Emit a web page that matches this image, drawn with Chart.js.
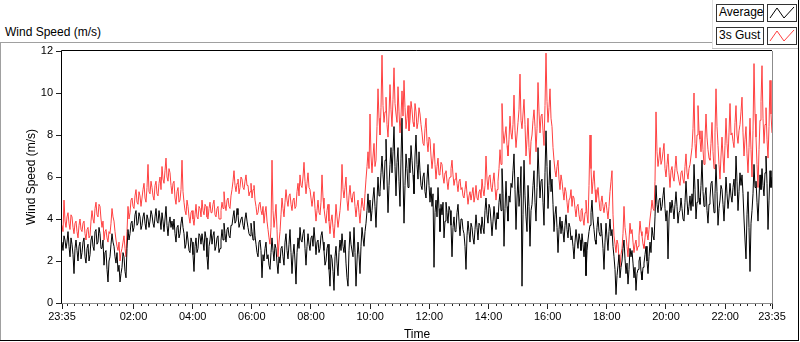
<!DOCTYPE html>
<html>
<head>
<meta charset="utf-8">
<script src="https://cdn.jsdelivr.net/npm/chart.js@4.4.1/dist/chart.umd.min.js"></script>
<style>
  body { margin: 0; background: #fff; overflow: hidden; font-family: "Liberation Sans", Arial, sans-serif; }
  #wrap { position: relative; width: 800px; height: 342px; }
  #chart { position: absolute; left: 0; top: 0; }
  .line { position: absolute; }
  .lbl { position: absolute; font-size: 12px; line-height: 14px; color: #000; white-space: nowrap; }
  .box { position: absolute; box-sizing: border-box; border: 1px solid #333; background: #fff;
         font-size: 12px; line-height: 15px; padding-left: 2px; color: #000; height: 18px; }
  .icon { padding: 0; width: 30px; }
  .icon svg { display: block; }
</style>
</head>
<body>
<div id="wrap">
  <div class="line" style="left:0;top:42px;width:712px;height:1px;background:#a0a0a0"></div>
  <div class="line" style="left:0;top:42px;width:1px;height:299px;background:#a0a0a0"></div>
  <div class="line" style="left:0;top:340px;width:799px;height:1px;background:#000"></div>
  <div class="line" style="left:798px;top:0;width:1px;height:341px;background:#000"></div>
  <div class="line" style="left:712px;top:0;width:1px;height:48px;background:#e0e0e0"></div>
  <div class="line" style="left:712px;top:48px;width:86px;height:1px;background:#c0c0c0"></div>

  <div class="lbl" style="left:5px;top:25px">Wind Speed (m/s)</div>

  <div class="box" style="left:716px;top:4px;width:48px">Average</div>
  <div class="box icon" style="left:767px;top:4px">
    <svg width="28" height="16"><polyline points="2,13 9,3 16,13 26,2" fill="none" stroke="#000" stroke-width="1"/></svg>
  </div>
  <div class="box" style="left:716px;top:27px;width:48px">3s Gust</div>
  <div class="box icon" style="left:767px;top:27px">
    <svg width="28" height="16"><polyline points="2,13 9,3 16,13 26,2" fill="none" stroke="#ff4040" stroke-width="1"/></svg>
  </div>

  <canvas id="chart" width="800" height="342"></canvas>
</div>
<script>
// wind speed, m/s, one reading about every 2 minutes from 23:35 to 23:35
const average = [
  2.9,2.5,3.2,3.0,2.6,2.9,3.4,2.7,2.2,3.1, 2.8,2.3,1.4,2.6,3.0,2.5,2.0,2.7,2.9,2.1,
  2.4,2.9,3.1,2.2,1.9,2.6,2.8,2.0,2.3,3.0, 3.2,2.7,2.5,3.4,3.5,2.8,2.9,3.6,3.3,2.6,
  2.6,3.0,1.8,2.4,2.5,1.6,1.0,2.0,2.2,2.8, 3.3,2.9,2.7,2.2,1.9,2.4,1.5,1.8,1.0,1.4,
  1.7,2.4,2.2,1.5,1.2,2.6,3.5,3.0,3.3,3.8, 3.9,3.4,3.6,4.2,4.4,3.7,3.8,4.3,4.1,3.5,
  3.7,4.1,4.3,3.8,3.5,4.2,4.0,3.6,3.9,4.4, 4.2,3.8,3.6,4.1,4.5,3.9,3.8,4.4,4.0,3.5,
  4.3,3.9,3.4,4.0,4.6,3.7,3.2,3.8,4.1,3.6, 3.9,3.5,4.0,3.3,2.9,3.6,3.7,3.1,3.3,3.8,
  4.1,3.6,3.3,2.6,2.8,3.4,3.0,2.5,2.4,3.1, 2.9,2.3,1.5,2.7,3.1,2.4,2.6,3.3,3.2,2.8,
  3.3,2.9,2.5,3.4,3.1,2.2,1.6,2.7,3.0,3.5, 2.8,3.2,3.4,2.5,2.7,3.1,3.2,2.4,2.6,3.0,
  3.5,3.0,3.8,3.3,2.9,3.5,3.6,3.2,3.1,3.7, 3.7,4.1,4.4,3.8,3.9,4.5,4.2,3.6,3.8,4.0,
  4.1,3.7,3.5,4.0,4.3,3.9,3.6,3.3,3.2,3.8, 3.4,3.0,3.9,3.2,2.8,2.4,2.2,2.9,3.0,2.5,
  1.2,2.3,2.0,2.6,2.9,2.1,2.3,1.8,1.6,2.4, 3.1,2.5,2.0,2.8,2.6,1.9,1.4,2.2,1.9,2.6,
  2.7,2.2,1.8,2.9,3.3,2.5,2.1,2.8,3.5,2.4, 1.4,2.3,2.8,2.0,0.9,2.4,3.1,2.6,3.6,3.0,
  2.9,3.3,3.5,2.6,1.8,2.7,3.3,2.8,2.5,3.1, 3.2,2.7,3.6,3.0,2.3,2.9,3.0,2.4,2.6,3.2,
  3.4,2.9,2.5,1.8,2.0,2.6,2.8,1.6,0.8,2.3, 2.1,1.5,0.6,2.2,2.7,1.9,1.3,2.4,3.0,2.5,
  3.3,2.7,2.4,3.0,1.9,1.2,0.8,2.5,3.4,2.8, 2.8,2.2,3.6,2.4,0.8,2.0,2.9,2.3,1.4,2.7,
  3.6,3.1,2.7,3.4,3.8,4.4,5.2,4.3,4.9,3.9, 4.4,5.0,5.5,4.6,3.6,4.9,6.0,5.1,5.3,6.2,
  7.0,6.1,5.4,6.8,7.8,5.9,4.3,5.6,6.6,7.4, 6.2,7.2,8.4,6.5,5.1,6.7,7.4,5.8,4.6,6.9,
  8.8,6.0,3.8,5.6,7.1,6.4,5.5,6.9,6.2,7.5, 6.8,6.1,5.2,7.0,8.0,6.6,5.9,7.2,6.3,5.6,
  5.4,6.0,6.2,5.3,5.0,5.9,6.6,5.6,4.8,5.5, 4.6,5.2,1.7,4.3,4.9,4.1,5.5,4.5,3.4,4.7,
  4.2,4.8,3.1,3.9,4.8,4.3,3.8,4.6,4.4,3.7, 2.2,3.6,4.1,3.4,3.5,4.3,4.7,3.9,3.2,4.0,
  4.0,3.5,3.3,2.7,1.6,3.2,3.9,3.4,2.9,3.8, 3.6,3.1,2.8,3.5,4.2,3.6,3.0,3.8,3.7,3.3,
  4.1,3.6,3.3,4.4,5.0,4.2,3.8,4.7,4.5,3.9, 3.2,3.9,4.6,4.0,3.5,4.3,4.0,4.8,5.2,4.4,
  6.4,5.2,2.7,4.5,5.8,4.6,3.9,5.1,4.8,5.7, 5.5,6.3,7.1,5.4,3.5,5.0,6.0,4.6,5.2,6.5,
  0.8,4.2,6.8,5.1,4.1,3.4,5.6,4.6,2.7,4.4, 4.7,5.6,6.3,4.8,3.9,5.5,7.4,6.1,5.0,5.8,
  5.9,4.8,3.7,6.2,8.2,6.5,4.5,5.6,6.8,5.3, 5.9,4.7,3.4,4.2,4.6,3.6,2.4,3.5,4.1,3.3,
  3.9,3.4,2.9,3.7,4.2,3.5,3.1,3.8,3.6,3.0, 3.2,2.7,2.1,2.9,3.5,3.0,2.6,3.3,3.0,2.5,
  3.3,2.8,2.2,2.9,1.3,2.5,3.0,3.4,3.7,4.3, 4.9,4.0,3.5,3.0,2.8,3.6,4.1,3.4,3.2,3.8,
  3.3,2.6,1.6,2.9,3.8,3.1,2.5,3.4,4.0,3.2, 3.5,2.7,2.2,1.6,0.4,1.3,1.8,2.3,1.2,1.7,
  2.0,2.6,3.0,2.1,1.4,1.9,0.9,1.6,2.6,2.2, 2.5,1.9,1.2,1.7,0.6,1.4,1.6,2.0,2.2,1.5,
  1.1,1.7,1.9,2.3,2.7,2.0,1.4,2.2,2.9,2.4, 3.6,3.2,3.0,4.1,5.6,4.7,4.3,4.9,5.0,4.4,
  4.6,5.1,5.5,4.5,3.9,4.4,2.1,4.0,4.8,4.3, 4.9,4.5,4.0,4.7,5.3,4.6,3.8,4.3,4.4,5.0,
  4.5,4.0,3.9,4.8,5.8,4.9,4.2,4.6,5.1,4.4, 5.2,4.6,6.6,5.4,4.0,4.8,5.9,5.0,4.7,5.6,
  6.8,5.3,4.6,5.1,5.5,4.4,3.8,4.7,5.0,5.7, 5.8,5.0,4.3,5.2,6.6,5.3,3.7,4.5,4.9,5.6,
  5.4,4.7,3.9,4.9,6.0,5.2,4.5,5.0,5.7,5.1, 4.8,5.5,5.9,5.1,7.0,5.8,4.4,5.3,6.2,5.6,
  6.1,5.2,4.0,3.0,2.1,4.2,5.3,3.6,1.5,3.8, 4.4,5.2,6.6,5.5,5.8,4.8,3.9,5.0,6.1,5.4,
  6.4,5.6,5.1,6.2,7.0,5.7,3.5,4.9,6.3,5.5, 6.0
];
const gust = [
  3.7,3.4,4.9,3.9,3.6,4.1,4.3,3.8,3.5,4.2, 4.1,3.6,3.3,3.8,3.9,3.4,3.1,3.7,4.0,3.5,
  3.4,3.8,3.9,3.3,3.0,3.5,3.6,3.1,3.2,3.9, 4.4,4.0,3.8,4.5,4.8,4.2,4.1,4.7,4.6,4.0,
  3.6,3.9,3.0,3.4,3.5,3.1,2.9,3.4,3.3,3.8, 4.5,4.1,3.9,3.4,3.0,2.7,2.5,2.9,2.0,2.4,
  2.6,2.9,3.2,2.6,2.2,3.4,4.6,4.0,4.3,4.9, 5.0,4.6,4.5,5.1,5.4,4.8,4.7,5.3,5.1,4.6,
  5.0,5.4,5.7,5.0,4.8,5.5,6.6,5.3,5.2,5.8, 5.5,5.1,4.9,5.6,5.8,5.2,5.1,5.7,6.0,5.4,
  6.5,5.9,5.7,6.3,6.9,6.0,5.8,6.4,6.2,5.6, 5.2,5.7,5.8,5.0,4.7,5.3,5.5,4.8,4.9,5.4,
  6.8,5.3,4.8,4.4,4.2,4.9,4.6,4.1,3.8,4.3, 4.4,4.0,3.7,4.2,4.7,4.1,4.0,4.6,4.5,4.1,
  4.9,4.4,4.2,4.7,4.6,4.1,4.0,4.5,4.8,4.3, 4.3,4.7,4.9,4.2,4.1,4.5,4.6,4.0,4.0,4.4,
  4.8,4.5,5.3,4.7,4.4,4.9,5.0,4.6,4.5,5.1, 5.4,5.8,6.3,5.6,5.3,5.7,5.9,5.2,5.5,6.0,
  5.9,5.5,5.4,5.8,6.1,5.6,5.6,5.1,5.3,5.7, 5.0,5.4,5.6,4.9,4.6,4.2,4.3,4.7,4.8,4.4,
  4.2,4.6,3.8,4.3,4.6,3.9,3.5,3.1,2.8,3.6, 6.8,4.4,3.6,4.1,4.7,3.5,2.2,2.9,3.4,4.2,
  5.0,4.5,4.1,4.8,5.4,4.9,4.6,5.1,5.2,4.7, 4.4,4.9,5.0,4.5,4.6,5.3,5.7,5.1,6.1,5.6,
  5.5,6.0,6.7,5.8,5.2,5.7,6.2,5.5,5.4,5.0, 4.6,5.0,5.3,4.5,3.9,4.4,4.9,4.3,4.2,4.8,
  6.1,5.0,4.5,4.1,3.8,4.4,4.7,3.9,3.3,3.9, 4.2,3.6,3.1,3.8,4.7,4.1,3.6,4.0,4.4,5.0,
  6.6,5.4,5.0,5.5,6.0,4.9,4.4,5.1,5.6,5.0, 4.8,5.2,5.3,4.6,4.1,4.6,4.9,4.3,3.8,4.5,
  5.0,4.6,4.4,5.2,5.9,6.5,7.2,6.4,9.0,7.0, 6.2,7.0,7.6,6.5,6.8,8.4,10.2,8.8,8.0,9.3,
  11.8,9.4,8.6,9.1,9.8,8.5,7.9,9.0,10.4,9.2, 8.4,9.7,11.2,9.5,9.0,8.6,10.3,9.1,8.1,8.9,
  10.1,8.9,10.6,9.3,8.3,8.8,9.4,8.2,8.7,9.6, 9.2,8.6,8.4,9.5,9.1,8.3,8.6,9.3,9.0,8.5,
  8.1,7.6,7.5,8.3,8.8,7.7,7.2,7.9,7.8,7.0, 6.4,6.9,7.6,6.6,5.9,6.5,6.9,6.1,6.2,6.7,
  6.6,6.0,5.7,6.2,6.3,5.8,5.4,5.9,6.0,6.4, 6.8,6.1,5.6,5.9,6.2,5.7,5.3,5.8,5.9,5.4,
  5.5,5.1,5.0,5.4,5.8,5.2,4.7,5.1,5.3,4.9, 5.2,5.5,4.8,5.1,5.6,5.0,4.9,5.3,5.4,5.0,
  5.9,5.4,5.1,5.6,7.0,5.9,5.4,6.0,6.1,5.5, 5.3,5.8,6.2,5.5,4.9,5.4,5.8,6.4,7.3,6.6,
  9.5,8.2,7.6,8.0,8.4,7.5,7.0,7.8,8.9,8.1, 7.8,8.5,9.9,8.2,7.4,8.0,8.6,9.2,10.9,8.7,
  8.3,9.0,9.7,8.5,7.0,7.8,8.8,7.4,6.6,7.7, 8.0,8.7,9.2,8.4,7.2,8.3,10.5,9.1,8.1,8.9,
  9.0,8.2,7.5,9.4,11.9,9.6,8.6,9.3,10.2,8.8, 8.4,7.4,6.8,6.3,6.0,6.5,6.8,5.9,5.4,6.1,
  5.8,5.3,4.9,5.5,5.3,4.8,4.3,4.9,5.0,5.4, 4.6,5.1,5.0,4.5,4.1,4.6,4.7,4.2,3.9,4.4,
  4.5,4.0,3.7,4.3,4.9,4.2,3.8,5.6,8.0,6.4, 5.2,5.8,6.3,5.4,4.8,5.1,5.5,4.9,4.4,4.8,
  5.1,4.6,4.3,4.7,4.8,4.4,4.0,4.6,5.3,5.8, 6.3,4.2,3.2,2.8,2.4,3.0,2.8,2.1,1.7,2.3,
  2.6,3.3,4.6,3.6,3.2,2.7,2.2,3.0,3.8,3.3, 3.5,2.9,2.4,2.8,3.0,2.5,2.7,3.2,3.9,3.4,
  3.2,2.8,2.6,3.1,3.6,3.3,3.0,3.5,4.0,4.4, 4.9,4.5,4.4,5.8,9.1,7.2,6.5,6.9,7.4,6.6,
  6.8,7.2,7.6,6.4,6.0,6.6,7.1,6.2,5.5,6.3, 6.5,6.0,5.8,6.4,7.0,6.3,6.1,5.8,5.6,6.2,
  6.3,5.9,5.7,6.5,7.1,6.2,5.9,6.4,6.6,7.0, 7.4,8.3,10.0,7.6,6.9,8.0,9.4,8.2,7.8,7.2,
  8.2,7.3,6.6,7.8,9.0,7.9,7.3,6.9,6.8,7.6, 8.6,7.2,6.4,8.1,10.2,8.4,7.5,6.6,5.9,7.0,
  7.9,7.0,6.2,7.5,8.8,7.6,6.9,8.1,9.5,8.0, 8.1,7.7,7.4,8.6,9.4,8.0,7.6,8.2,8.5,9.1,
  9.8,8.1,7.0,7.8,8.4,7.1,6.2,7.4,8.8,7.3, 6.0,8.2,11.4,9.0,7.9,6.6,5.5,7.3,8.7,9.6,
  11.3,8.8,7.6,8.5,9.3,7.8,6.9,8.4,10.6,9.0, 8.1
];
// x ticks: minutes after 23:35 and their labels
const tickMinutes = [0, 145, 265, 385, 505, 625, 745, 865, 985, 1105, 1225, 1345, 1440];
const tickLabels = ['23:35', '02:00', '04:00', '06:00', '08:00', '10:00', '12:00', '14:00', '16:00', '18:00', '20:00', '22:00', '23:35'];
const spanMinutes = 1440;

const toPoints = arr => arr.map((v, i) => ({ x: i * spanMinutes / (arr.length - 1), y: v }));

const font11 = { family: '"Liberation Sans", Arial, sans-serif', size: 11 };
const font12 = { family: '"Liberation Sans", Arial, sans-serif', size: 12 };

const framePlugin = {
  id: 'frame',
  afterDraw(chart) {
    const { ctx, chartArea: a } = chart;
    const x = chart.scales.x;
    ctx.save();
    ctx.lineWidth = 1;
    // minor ticks every quarter hour
    ctx.strokeStyle = '#222';
    ctx.beginPath();
    for (let m = 10; m < spanMinutes; m += 15) {
      if (tickMinutes.includes(m)) continue;
      const px = Math.round(x.getPixelForValue(m)) + 0.5;
      ctx.moveTo(px, a.bottom);
      ctx.lineTo(px, a.bottom + 3);
    }
    ctx.stroke();
    // plot frame: dark top/left, grey bottom/right
    ctx.strokeStyle = '#000';
    ctx.beginPath();
    ctx.moveTo(a.left - 0.5, a.bottom);
    ctx.lineTo(a.left - 0.5, a.top - 0.5);
    ctx.lineTo(a.right, a.top - 0.5);
    ctx.stroke();
    ctx.strokeStyle = '#8c8c8c';
    ctx.beginPath();
    ctx.moveTo(a.right + 0.5, a.top);
    ctx.lineTo(a.right + 0.5, a.bottom + 0.5);
    ctx.lineTo(a.left, a.bottom + 0.5);
    ctx.stroke();
    ctx.restore();
  }
};

new Chart(document.getElementById('chart').getContext('2d'), {
  type: 'line',
  data: {
    datasets: [{
      label: 'Average',
      data: toPoints(average),
      borderColor: '#000',
      borderWidth: 1,
      pointRadius: 0,
      tension: 0
    }, {
      label: '3s Gust',
      data: toPoints(gust),
      borderColor: '#ff4040',
      borderWidth: 1,
      pointRadius: 0,
      tension: 0
    }]
  },
  options: {
    responsive: false,
    animation: false,
    events: [],
    layout: { padding: { left: 0, top: 51, right: 28, bottom: 0 } },
    plugins: { legend: { display: false }, tooltip: { enabled: false } },
    scales: {
      x: {
        type: 'linear',
        min: 0,
        max: spanMinutes,
        afterBuildTicks: s => { s.ticks = tickMinutes.map(v => ({ value: v })); },
        afterFit: s => { s.height = 39; },
        ticks: {
          autoSkip: false,
          maxRotation: 0,
          padding: 1,
          color: '#000',
          font: font11,
          callback: (v, i) => tickLabels[i]
        },
        grid: { drawOnChartArea: false, tickLength: 6, color: '#222' },
        border: { display: false },
        title: { display: true, text: 'Time', color: '#000', font: font12, padding: { top: 0, bottom: 0 } }
      },
      y: {
        min: 0,
        max: 12,
        afterFit: s => { s.width = 62; },
        ticks: { stepSize: 2, padding: 3, color: '#000', font: font11 },
        grid: { drawOnChartArea: false, tickLength: 6, color: '#222' },
        border: { display: false },
        title: { display: true, text: 'Wind Speed (m/s)', color: '#000', font: font12, padding: { top: 24, bottom: 0 } }
      }
    }
  },
  plugins: [framePlugin]
});
</script>
</body>
</html>
